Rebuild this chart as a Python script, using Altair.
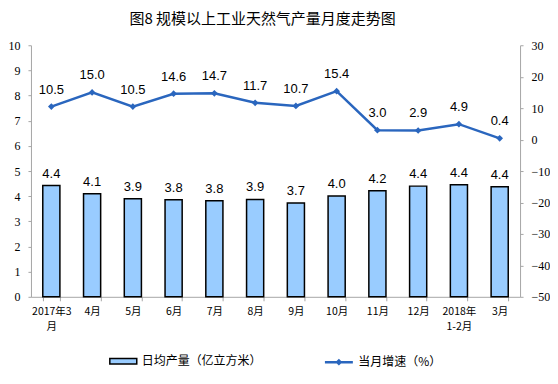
import altair as alt
import pandas as pd

months = ["2017年3\n月", "4月", "5月", "6月", "7月", "8月", "9月", "10月", "11月", "12月", "2018年\n1-2月", "3月"]
daily_output = [4.42, 4.10, 3.90, 3.86, 3.82, 3.87, 3.73, 4.01, 4.22, 4.40, 4.45, 4.38]
daily_labels = ["4.4", "4.1", "3.9", "3.8", "3.8", "3.9", "3.7", "4.0", "4.2", "4.4", "4.4", "4.4"]
growth = [10.5, 15.0, 10.5, 14.6, 14.7, 11.7, 10.7, 15.4, 3.0, 2.9, 4.9, 0.4]
growth_labels = ["10.5", "15.0", "10.5", "14.6", "14.7", "11.7", "10.7", "15.4", "3.0", "2.9", "4.9", "0.4"]

df = pd.DataFrame({
    "month": months,
    "daily": daily_output,
    "dlabel": daily_labels,
    "growth": growth,
    "glabel": growth_labels,
    "s1": "日均产量（亿立方米）",
    "s2": "当月增速（%）",
})

axis_color = "#A6A6A6"
line_color = "#2A66BE"
x = alt.X("month:N", sort=None, title=None,
          scale=alt.Scale(paddingInner=0.58, paddingOuter=0.29),
          axis=alt.Axis(labelAngle=0, labelFont="Noto Sans CJK SC", labelFontSize=10.5,
                        labelColor="#000000", domainColor=axis_color, tickColor=axis_color,
                        tickBand="extent", tickSize=4, labelPadding=6,
                        labelExpr="split(datum.label, '\\n')", labelLineHeight=15))

yl = alt.Y("daily:Q", title=None,
           scale=alt.Scale(domain=[0, 10], nice=False),
           axis=alt.Axis(values=list(range(0, 11)), grid=False, labelFont="Liberation Serif",
                         labelFontSize=12, labelColor="#000000", domainColor=axis_color,
                         tickColor=axis_color, tickSize=3, labelPadding=8))

yr = alt.Y("growth:Q", title=None,
           scale=alt.Scale(domain=[-50, 30], nice=False),
           axis=alt.Axis(orient="right", values=list(range(-50, 31, 10)), grid=False,
                         labelFont="Liberation Serif", labelFontSize=12, labelColor="#000000",
                         domainColor=axis_color, tickColor=axis_color, tickSize=3,
                         labelPadding=8))

base = alt.Chart(df)

bars = base.mark_bar(stroke="#000000", strokeWidth=1.5).encode(
    x=x,
    y=yl,
    fill=alt.Fill("s1:N", scale=alt.Scale(range=["#99CCFF"]),
                  legend=alt.Legend(title=None, orient="none", legendX=78, legendY=302,
                                    symbolType="M-1,-0.2H1V0.2H-1Z", symbolSize=729,
                                    labelOffset=4,
                                    labelFont="Noto Sans CJK SC",
                                    labelFontSize=12, labelColor="#000000",
                                    symbolStrokeColor="#000000", symbolStrokeWidth=1.5)),
)

bar_text = base.mark_text(dy=-12, font="Liberation Sans", fontSize=13, color="#000000").encode(
    x=x, y=yl, text="dlabel:N",
)

line = base.mark_line(strokeWidth=2.5).encode(
    x=x,
    y=yr,
    color=alt.Color("s2:N", scale=alt.Scale(range=[line_color]),
                    legend=alt.Legend(title=None, orient="none", legendX=293, legendY=302,
                                      symbolType="M-1,0H1M-0.12,0L0,-0.12L0.12,0L0,0.12Z",
                                      symbolStrokeWidth=2.5, symbolSize=784, labelOffset=4,
                                      labelFont="Noto Sans CJK SC", labelFontSize=12,
                                      labelColor="#000000")),
)

points = base.mark_point(shape="diamond", size=45, filled=True, color=line_color, opacity=1).encode(
    x=x, y=yr,
)

line_text = base.mark_text(dy=-17, font="Liberation Sans", fontSize=13, color="#000000").encode(
    x=x, y=yr, text="glabel:N",
)

left = alt.layer(bars, bar_text)
right = alt.layer(line, points, line_text)

chart = alt.layer(left, right).resolve_scale(y="independent", fill="independent", color="independent").properties(
    width=490, height=252,
    title=alt.TitleParams("图8  规模以上工业天然气产量月度走势图", font="Noto Sans CJK SC",
                          fontSize=15, fontWeight="normal", color="#000000", offset=12, dx=-13),
    padding={"left": 0, "right": 0, "top": 4, "bottom": 0},
).configure_view(stroke=None)

chart.save("out.html", embed_options={"renderer": "svg", "actions": False})
